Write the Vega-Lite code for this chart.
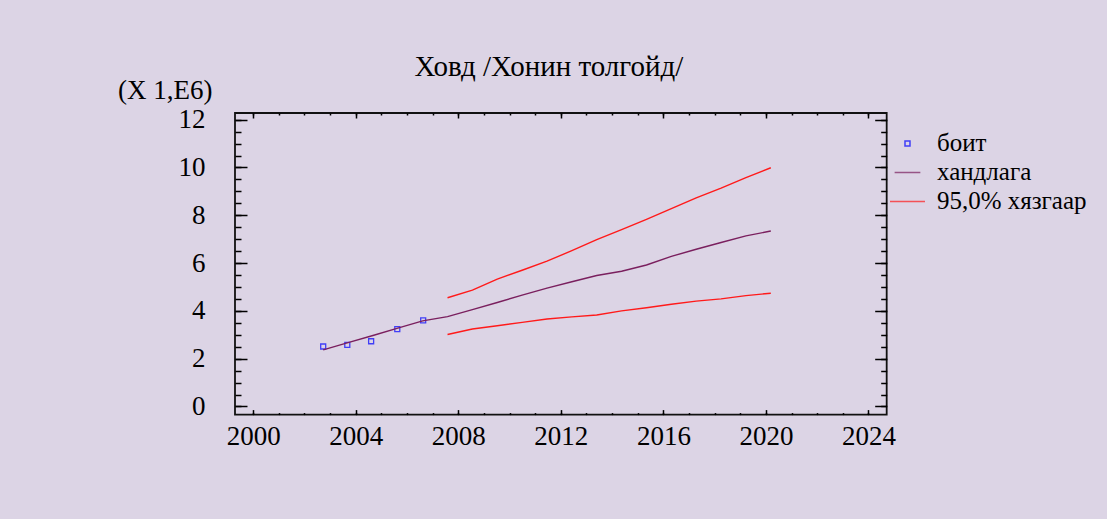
{
  "$schema": "https://vega.github.io/schema/vega-lite/v6.json",
  "width": 651.7,
  "height": 301.6,
  "autosize": {"type": "none"},
  "padding": {"left": 235, "top": 113, "right": 220, "bottom": 105},
  "background": "#dcd4e5",
  "title": {"text": "Ховд /Хонин толгойд/", "font": "Liberation Serif", "fontSize": 29, "fontWeight": "normal", "color": "#000000", "anchor": "middle", "dx": -12, "dy": 38, "offset": 10, "baseline": "alphabetic"},
  "data": {"values": [
    {"t": 2002.73, "v": 2.51, "s": "боит", "g": "obs"},
    {"t": 2003.67, "v": 2.58, "s": "боит", "g": "obs"},
    {"t": 2004.60, "v": 2.73, "s": "боит", "g": "obs"},
    {"t": 2005.62, "v": 3.24, "s": "боит", "g": "obs"},
    {"t": 2006.63, "v": 3.60, "s": "боит", "g": "obs"},
    {"t": 2002.73, "v": 2.37, "s": "хандлага", "g": "mid"},
    {"t": 2003.70, "v": 2.67, "s": "хандлага", "g": "mid"},
    {"t": 2004.67, "v": 2.97, "s": "хандлага", "g": "mid"},
    {"t": 2005.64, "v": 3.28, "s": "хандлага", "g": "mid"},
    {"t": 2006.61, "v": 3.58, "s": "хандлага", "g": "mid"},
    {"t": 2007.58, "v": 3.76, "s": "хандлага", "g": "mid"},
    {"t": 2008.55, "v": 4.05, "s": "хандлага", "g": "mid"},
    {"t": 2009.52, "v": 4.35, "s": "хандлага", "g": "mid"},
    {"t": 2010.49, "v": 4.66, "s": "хандлага", "g": "mid"},
    {"t": 2011.46, "v": 4.95, "s": "хандлага", "g": "mid"},
    {"t": 2012.43, "v": 5.22, "s": "хандлага", "g": "mid"},
    {"t": 2013.40, "v": 5.48, "s": "хандлага", "g": "mid"},
    {"t": 2014.37, "v": 5.66, "s": "хандлага", "g": "mid"},
    {"t": 2015.34, "v": 5.92, "s": "хандлага", "g": "mid"},
    {"t": 2016.31, "v": 6.28, "s": "хандлага", "g": "mid"},
    {"t": 2017.28, "v": 6.58, "s": "хандлага", "g": "mid"},
    {"t": 2018.25, "v": 6.86, "s": "хандлага", "g": "mid"},
    {"t": 2019.22, "v": 7.14, "s": "хандлага", "g": "mid"},
    {"t": 2020.19, "v": 7.34, "s": "хандлага", "g": "mid"},
    {"t": 2007.58, "v": 4.55, "s": "95,0% хязгаар", "g": "upper"},
    {"t": 2008.55, "v": 4.87, "s": "95,0% хязгаар", "g": "upper"},
    {"t": 2009.52, "v": 5.33, "s": "95,0% хязгаар", "g": "upper"},
    {"t": 2010.49, "v": 5.70, "s": "95,0% хязгаар", "g": "upper"},
    {"t": 2011.46, "v": 6.08, "s": "95,0% хязгаар", "g": "upper"},
    {"t": 2012.43, "v": 6.52, "s": "95,0% хязгаар", "g": "upper"},
    {"t": 2013.40, "v": 6.98, "s": "95,0% хязгаар", "g": "upper"},
    {"t": 2014.37, "v": 7.40, "s": "95,0% хязгаар", "g": "upper"},
    {"t": 2015.34, "v": 7.83, "s": "95,0% хязгаар", "g": "upper"},
    {"t": 2016.31, "v": 8.28, "s": "95,0% хязгаар", "g": "upper"},
    {"t": 2017.28, "v": 8.73, "s": "95,0% хязгаар", "g": "upper"},
    {"t": 2018.25, "v": 9.14, "s": "95,0% хязгаар", "g": "upper"},
    {"t": 2019.22, "v": 9.58, "s": "95,0% хязгаар", "g": "upper"},
    {"t": 2020.19, "v": 9.99, "s": "95,0% хязгаар", "g": "upper"},
    {"t": 2007.58, "v": 3.01, "s": "95,0% хязгаар", "g": "lower"},
    {"t": 2008.55, "v": 3.24, "s": "95,0% хязгаар", "g": "lower"},
    {"t": 2009.52, "v": 3.38, "s": "95,0% хязгаар", "g": "lower"},
    {"t": 2010.49, "v": 3.52, "s": "95,0% хязгаар", "g": "lower"},
    {"t": 2011.46, "v": 3.66, "s": "95,0% хязгаар", "g": "lower"},
    {"t": 2012.43, "v": 3.75, "s": "95,0% хязгаар", "g": "lower"},
    {"t": 2013.40, "v": 3.83, "s": "95,0% хязгаар", "g": "lower"},
    {"t": 2014.37, "v": 4.00, "s": "95,0% хязгаар", "g": "lower"},
    {"t": 2015.34, "v": 4.13, "s": "95,0% хязгаар", "g": "lower"},
    {"t": 2016.31, "v": 4.28, "s": "95,0% хязгаар", "g": "lower"},
    {"t": 2017.28, "v": 4.41, "s": "95,0% хязгаар", "g": "lower"},
    {"t": 2018.25, "v": 4.50, "s": "95,0% хязгаар", "g": "lower"},
    {"t": 2019.22, "v": 4.64, "s": "95,0% хязгаар", "g": "lower"},
    {"t": 2020.19, "v": 4.74, "s": "95,0% хязгаар", "g": "lower"}
  ]},
  "layer": [
    {
      "transform": [{"filter": "datum.g === 'obs'"}],
      "mark": {"type": "point", "filled": false, "strokeWidth": 1.3},
      "encoding": {
        "x": {"field": "t", "type": "quantitative", "scale": {"domain": [1999.29, 2024.71], "nice": false, "zero": false},
              "axis": {"orient": "bottom", "values": [2000, 2004, 2008, 2012, 2016, 2020, 2024], "format": "d", "tickSize": -5, "labelPadding": 14, "labelBaseline": "top", "title": null}},
        "y": {"field": "v", "type": "quantitative", "scale": {"domain": [-0.34, 12.28], "nice": false, "zero": false},
              "axis": {"orient": "left", "values": [0, 2, 4, 6, 8, 10, 12], "format": "d", "tickSize": -12, "labelPadding": 42, "title": "(X 1,E6)", "titleAngle": 0, "titleAlign": "right", "titleBaseline": "alphabetic", "titleX": -23, "titleY": -14}},
        "color": {"field": "s", "type": "nominal", "scale": {"domain": ["боит", "хандлага", "95,0% хязгаар"], "range": ["#0000ff", "#7a1f5e", "#ff1a1a"]}, "title": null},
        "shape": {"field": "s", "type": "nominal", "scale": {"domain": ["боит", "хандлага", "95,0% хязгаар"], "range": ["square", "M-2,0H2", "M-2,0H2"]}, "title": null},
        "size": {"field": "s", "type": "nominal", "scale": {"domain": ["боит", "хандлага", "95,0% хязгаар"], "range": [25, 306, 306]}, "title": null}
      }
    },
    {
      "transform": [{"filter": "datum.g === 'mid'"}],
      "mark": {"type": "line", "strokeWidth": 1.4},
      "encoding": {
        "x": {"field": "t", "type": "quantitative", "scale": {"domain": [1999.29, 2024.71], "nice": false, "zero": false},
              "axis": {"orient": "bottom", "values": [2000, 2001, 2002, 2003, 2004, 2005, 2006, 2007, 2008, 2009, 2010, 2011, 2012, 2013, 2014, 2015, 2016, 2017, 2018, 2019, 2020, 2021, 2022, 2023, 2024], "tickSize": -2, "labels": false, "title": null}},
        "y": {"field": "v", "type": "quantitative", "scale": {"domain": [-0.34, 12.28], "nice": false, "zero": false},
              "axis": {"orient": "left", "values": [0, 0.5, 1, 1.5, 2, 2.5, 3, 3.5, 4, 4.5, 5, 5.5, 6, 6.5, 7, 7.5, 8, 8.5, 9, 9.5, 10, 10.5, 11, 11.5, 12], "tickSize": -6, "labels": false, "title": null}},
        "color": {"field": "s", "type": "nominal", "scale": {"domain": ["боит", "хандлага", "95,0% хязгаар"], "range": ["#0000ff", "#7a1f5e", "#ff1a1a"]}, "title": null}
      }
    },
    {
      "transform": [{"filter": "datum.g === 'upper'"}],
      "mark": {"type": "line", "strokeWidth": 1.4},
      "encoding": {
        "x": {"field": "t", "type": "quantitative", "scale": {"domain": [1999.29, 2024.71], "nice": false, "zero": false},
              "axis": {"orient": "top", "values": [2000, 2004, 2008, 2012, 2016, 2020, 2024], "tickSize": -5, "labels": false, "title": null}},
        "y": {"field": "v", "type": "quantitative", "scale": {"domain": [-0.34, 12.28], "nice": false, "zero": false},
              "axis": {"orient": "right", "values": [0, 2, 4, 6, 8, 10, 12], "tickSize": -12, "labels": false, "title": null}},
        "color": {"field": "s", "type": "nominal", "scale": {"domain": ["боит", "хандлага", "95,0% хязгаар"], "range": ["#0000ff", "#7a1f5e", "#ff1a1a"]}, "title": null}
      }
    },
    {
      "transform": [{"filter": "datum.g === 'lower'"}],
      "mark": {"type": "line", "strokeWidth": 1.4},
      "encoding": {
        "x": {"field": "t", "type": "quantitative", "scale": {"domain": [1999.29, 2024.71], "nice": false, "zero": false},
              "axis": {"orient": "top", "values": [2000, 2001, 2002, 2003, 2004, 2005, 2006, 2007, 2008, 2009, 2010, 2011, 2012, 2013, 2014, 2015, 2016, 2017, 2018, 2019, 2020, 2021, 2022, 2023, 2024], "tickSize": -2, "labels": false, "title": null}},
        "y": {"field": "v", "type": "quantitative", "scale": {"domain": [-0.34, 12.28], "nice": false, "zero": false},
              "axis": {"orient": "right", "values": [0, 0.5, 1, 1.5, 2, 2.5, 3, 3.5, 4, 4.5, 5, 5.5, 6, 6.5, 7, 7.5, 8, 8.5, 9, 9.5, 10, 10.5, 11, 11.5, 12], "tickSize": -6, "labels": false, "title": null}},
        "color": {"field": "s", "type": "nominal", "scale": {"domain": ["боит", "хандлага", "95,0% хязгаар"], "range": ["#0000ff", "#7a1f5e", "#ff1a1a"]}, "title": null}
      }
    }
  ],
  "resolve": {"axis": {"x": "independent", "y": "independent"}},
  "config": {
    "view": {"stroke": "#111111", "strokeWidth": 1.8},
    "axis": {"domain": false, "grid": false, "tickColor": "#000000", "tickWidth": 1.5, "labelFont": "Liberation Serif", "labelFontSize": 27, "labelColor": "#000000", "titleFont": "Liberation Serif", "titleFontSize": 27, "titleFontWeight": "normal", "titleColor": "#000000", "labelFlush": false, "labelOverlap": false},
    "legend": {"orient": "none", "legendX": 660, "legendY": 18, "padding": 0, "labelFont": "Liberation Serif", "labelFontSize": 25, "labelColor": "#000000", "symbolStrokeWidth": 1.5, "labelOffset": 17, "rowPadding": 3, "labelLimit": 300}
  }
}
